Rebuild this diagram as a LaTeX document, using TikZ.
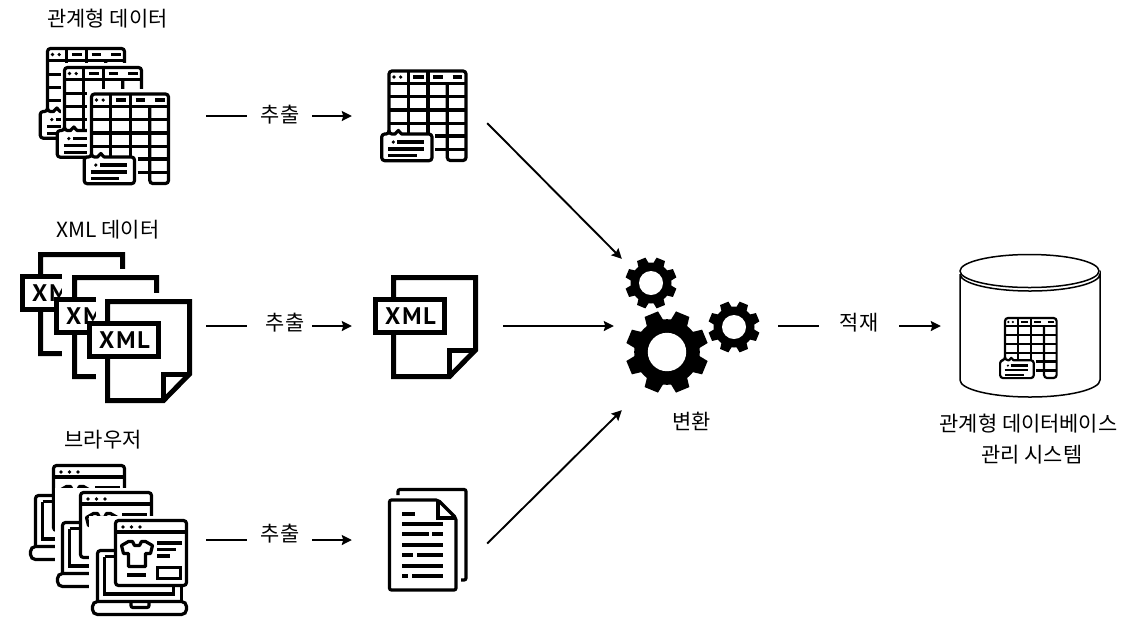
\documentclass[tikz,border=0pt]{standalone}
\usepackage{fontspec}
\usepackage{xcolor}
\setmainfont{Noto Sans CJK KR}
\newfontfamily\tagfont[LetterSpace=8]{PT Sans}
\usetikzlibrary{arrows.meta}
\tikzset{
  iconline/.style={line width=3.2pt},
  caption/.style={font=\fontsize{20.9}{31}\selectfont, inner sep=0pt},
  iconbox/.style={inner sep=0pt, minimum height=100pt},
  lead/.style={line width=1.9pt},
  flow/.style={line width=1.9pt, -{Stealth[length=10pt,width=10pt,inset=1.5pt]}},
  % table with a note on it
  sheeticon/.pic={
    \draw[iconline, rounded corners=3pt] (0,63) -- (0,0) -- (77,0) -- (77,89.5) -- (58.3,89.5) -- (58.3,12.3);
    \draw[iconline] (0,12.3) -- (77,12.3);
    \foreach \y in {25.7,39,52.3} \draw[iconline] (0,\y) -- (77,\y);
    \foreach \y in {65,78.3} \draw[iconline] (46,\y) -- (77,\y);
    \foreach \x in {19.3,39} \draw[iconline] (\x,0) -- (\x,63);
    \foreach \x/\w in {24.3/34.5,44/53.6,63.7/73} \draw[iconline] (\x,6) -- (\w,6);
    \foreach \x in {5,11.7} \fill (\x,6) circle (1.8);
    \draw[iconline, fill=white, line join=round] (0,63) -- (6,63) -- (9.3,59.5) -- (12.6,63) [rounded corners=3pt] -- (43,63) -- (43,89.7) -- (-7.3,89.7) -- (-7.3,63) -- (0,63) -- cycle;
    \fill (4.3,71) circle (1.8);
    \draw[iconline] (8.3,71) -- (35,71) (-0.7,78) -- (35,78) (-0.7,84.6) -- (27.7,84.6);
  },
  % page with XML tag, origin at the page corner
  xmlicon/.pic={
    \draw[line width=5pt, fill=white] (2.5,24.5) -- (2.5,2.5) -- (84.5,2.5) -- (84.5,75) -- (58.5,101.5) -- (2.5,101.5) -- (2.5,57.5);
    \draw[line width=5pt] (58.5,101.5) -- (58.5,75) -- (84.5,75);
    \draw[line width=5pt, fill=white] (-15.5,24.5) rectangle (53.5,57.5);
    \node[font=\tagfont\bfseries\fontsize{24}{24}\selectfont, inner sep=0pt] (xmlword) at (19.5,41) {XML};
  },
  % laptop with shop page, origin at the window corner
  laptopicon/.pic={
    \draw[iconline, rounded corners=3pt] (-18,81) -- (-18,30) -- (0,30);
    \draw[iconline] (-11,36) -- (0,36) (-11,36) -- (-11,73.5) -- (58,73.5) -- (58,65);
    \draw[iconline] (66,65) -- (66,81);
    \draw[iconline, rounded corners=5pt] (20,81) -- (71,81) -- (71,94) -- (-23,94) -- (-23,81) -- (20,81);
    \draw[iconline, rounded corners=2pt] (15.5,81) -- (15.5,87) -- (33.5,87) -- (33.5,81);
    \draw[iconline, fill=white, rounded corners=3pt] (0,0) rectangle (71,65);
    \draw[iconline] (0,11.5) -- (71,11.5);
    \foreach \x in {7.5,16,24.5} \fill (\x,6.5) circle (1.8);
    \draw[iconline, line join=round] (13,21) -- (6,25) -- (8,33) -- (13,33) -- (13,46) -- (30,46) -- (30,33) -- (35,33) -- (37,25) -- (30,21) -- (26,21) -- (24,25) -- (19,25) -- (17,21) -- cycle;
    \draw[iconline] (11.5,54.5) -- (30.5,54.5) (41.5,22.5) -- (66.5,22.5) (41.5,29) -- (60.5,29) (41.5,35.5) -- (54.5,35.5);
    \draw[iconline] (42,47) rectangle (65,58);
  },
  % two sheets of text
  pagesicon/.pic={
    \draw[iconline, rounded corners=2pt] (398,495) -- (398,489.5) -- (466,489.5) -- (466,580) -- (461,580);
    \draw[iconline, fill=white, rounded corners=2pt] (389.5,500) -- (438,500) -- (456,518) -- (456,590) -- (389.5,590) -- cycle;
    \draw[iconline] (438,500) -- (438,518) -- (456,518);
    \foreach \y/\a/\b in {514/402/415,524/402/443,534/402/429,534/432/443,545/402/443,555/402/413,555/417/443,566/402/443,576/402/408,576/412/443}
      \draw[iconline] (\a,\y) -- (\b,\y);
  },
  gearicon/.pic={
    \fill circle (20.5);
    \foreach \a in {22.5,67.5,...,337.5}
      \fill (\a-16:20) -- (\a-10:26) -- (\a+10:26) -- (\a+16:20) -- cycle;
    \fill[white] circle (12);
  }
}

\begin{document}
\begin{tikzpicture}[x=1pt, y=-1pt]
  \useasboundingbox (0,0) rectangle (1140,641);

  % left column
  \pic (sheeta) at (47.5,48.5) {sheeticon};
  \fill[white] (61,63) rectangle (175,190);
  \pic (sheetb) at (64.5,67.5) {sheeticon};
  \fill[white] (87,89) rectangle (175,190);
  \pic (sheetc) at (91.5,94) {sheeticon};

  \pic (xmla) at (38,252) {xmlicon};
  \fill[white] (62,269) rectangle (200,420);
  \pic (xmlb) at (72,275) {xmlicon};
  \fill[white] (96,293) rectangle (200,420);
  \pic (xmlc) at (105,299) {xmlicon};

  \pic (laptopa) at (53.5,465.5) {laptopicon};
  \fill[white] (55,488) rectangle (200,630);
  \pic (laptopb) at (80.5,492.5) {laptopicon};
  \fill[white] (89,516) rectangle (200,630);
  \pic (laptopc) at (115.5,520.5) {laptopicon};

  \node[caption] (relcap) at (107.5,19) {관계형 데이터};
  \node[caption] (xmlcap) at (108,230) {XML 데이터};
  \node[caption] (brwcap) at (103,440) {브라우저};

  % middle column
  \pic (sheetout) at (389,71) {sheeticon};
  \pic (xmlout) at (391,275) {xmlicon};
  \pic (pagesout) at (0,0) {pagesicon};

  % gears
  \pic (geara) at (651,283) {gearicon};
  \pic[scale=1.6] (gearb) at (667,352) {gearicon};
  \pic (gearc) at (734,327) {gearicon};
  \node[caption] (gearcap) at (691.5,421) {변환};

  % database
  \draw[line width=1.5pt, fill=white] (960,274) -- (960,380) arc[start angle=180, end angle=360, x radius=70pt, y radius=17pt] -- (1100,274) arc[start angle=0, end angle=180, x radius=70pt, y radius=-17pt];
  \draw[line width=1.5pt, fill=white] (1029.5,271) ellipse[x radius=69.5pt, y radius=16.5pt];
  \pic[scale=0.67, iconline/.style={line width=2.2pt}] (sheetdb) at (1005,318) {sheeticon};
  \node[caption, align=center] (dbcap) at (1028.5,439.5) {관계형 데이터베이스\\\hspace*{7pt}관리 시스템};

  % anchors for the connectors
  \node[iconbox, minimum width=176pt] (relsrc) at (118,116) {};
  \node[iconbox, minimum width=186pt] (xmlsrc) at (113,326) {};
  \node[iconbox, minimum width=179pt] (brwsrc) at (116.5,540) {};
  \node[iconbox, minimum width=135pt] (reldst) at (419.5,116) {};
  \node[iconbox, minimum width=151pt] (xmldst) at (427.5,326) {};
  \node[iconbox, minimum width=135pt] (brwdst) at (419.5,540) {};
  \node[iconbox, minimum width=156pt, minimum height=151pt] (gearhub) at (700,334.5) {};
  \node[iconbox, minimum width=159pt, minimum height=143pt] (dbbox) at (1020.5,326) {};

  \node[caption] (cuta) at (280,115) {추출};
  \node[caption] (cutb) at (285,323) {추출};
  \node[caption] (cutc) at (280,534) {추출};
  \node[caption] (loadtag) at (859,323) {적재};

  \draw[lead, shorten >=14pt] (relsrc.east) -- (relsrc.east -| cuta.west);
  \draw[flow, shorten <=13pt] (reldst.west -| cuta.east) -- (reldst.west);
  \draw[lead, shorten >=19pt] (xmlsrc.east) -- (xmlsrc.east -| cutb.west);
  \draw[flow, shorten <=8pt] (xmldst.west -| cutb.east) -- (xmldst.west);
  \draw[lead, shorten >=14pt] (brwsrc.east) -- (brwsrc.east -| cutc.west);
  \draw[flow, shorten <=13pt] (brwdst.west -| cutc.east) -- (brwdst.west);

  \draw[flow] (reldst.-6.76) -- (gearhub.north west);
  \draw[flow, shorten >=8pt] (xmldst.east) -- (xmldst.east -| gearhub.west);
  \draw[flow] (brwdst.-3.39) -- (gearhub.south west);

  \draw[lead, shorten >=21pt] (dbbox.west -| gearhub.east) -- (dbbox.west -| loadtag.west);
  \draw[flow, shorten <=21pt] (dbbox.west -| loadtag.east) -- (dbbox.west);
\end{tikzpicture}
\end{document}
